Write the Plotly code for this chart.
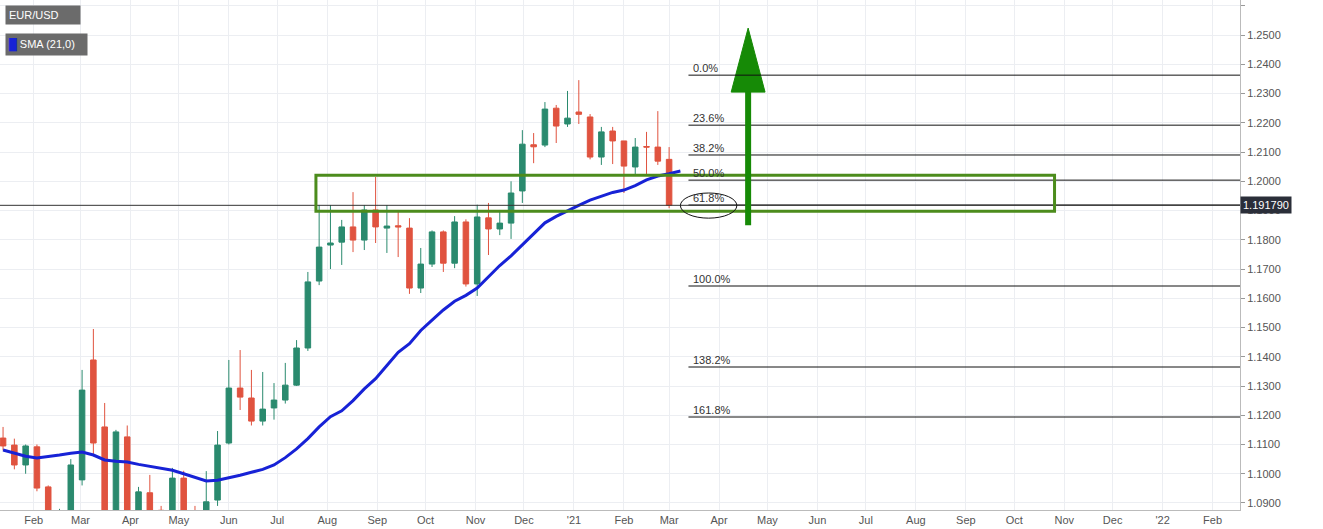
import plotly.graph_objects as go
import pandas as pd

start = pd.Timestamp("2020-01-13")
opens = [1.1122,1.1098,1.1030,1.1092,1.0955,1.0830,1.0845,1.0979,1.1389,1.1160,1.0690,1.1126,1.0790,1.0935,1.0875,1.0820,1.0985,1.0840,1.0820,1.0910,
         1.1105,1.1293,1.1259,1.1180,1.1225,1.1252,1.1303,1.1430,1.1659,1.1782,1.1792,1.1844,1.1799,1.1902,1.1840,1.1848,1.1840,1.1635,1.1717,1.1827,
         1.1720,1.1861,1.1649,1.1875,1.1837,1.1857,1.1967,1.2125,1.2124,1.2250,1.2196,1.2237,1.2220,1.2083,1.2172,1.2138,1.2049,1.2119,1.2117,1.2075]
highs = [1.1160,1.1120,1.1100,1.1100,1.0960,1.0880,1.1050,1.1355,1.1495,1.1242,1.1150,1.1165,1.0955,1.0996,1.0890,1.1020,1.1010,1.0890,1.1009,1.1146,
         1.1389,1.1423,1.1355,1.1348,1.1310,1.1379,1.1457,1.1690,1.1919,1.1919,1.1868,1.1963,1.1919,1.2015,1.1919,1.1902,1.1874,1.1772,1.1832,1.1832,
         1.1881,1.1870,1.1920,1.1926,1.1902,1.2000,1.2175,1.2165,1.2271,1.2261,1.2309,1.2346,1.2230,1.2186,1.2186,1.2138,1.2148,1.2169,1.2240,1.2117]
lows = [1.1080,1.1015,1.1000,1.0940,1.0800,1.0780,1.0840,1.0960,1.1060,1.0636,1.0635,1.0770,1.0770,1.0860,1.0755,1.0810,1.0780,1.0775,1.0870,1.0890,
        1.1100,1.1218,1.1165,1.1165,1.1185,1.1240,1.1300,1.1420,1.1645,1.1700,1.1714,1.1758,1.1765,1.1789,1.1755,1.1741,1.1615,1.1618,1.1707,1.1690,
        1.1703,1.1640,1.1608,1.1748,1.1816,1.1803,1.1926,1.2062,1.2117,1.2131,1.2186,1.2196,1.2075,1.2056,1.2059,1.1960,1.2018,1.2021,1.2056,1.1908]
closes = [1.1095,1.1030,1.1095,1.0951,1.0830,1.0845,1.1030,1.1286,1.1105,1.0690,1.1143,1.0800,1.0938,1.0875,1.0820,1.0985,1.0840,1.0820,1.0904,1.1098,
          1.1293,1.1262,1.1180,1.1221,1.1252,1.1303,1.1430,1.1656,1.1775,1.1789,1.1844,1.1799,1.1902,1.1844,1.1847,1.1844,1.1635,1.1717,1.1827,1.1720,
          1.1861,1.1649,1.1878,1.1837,1.1857,1.1960,1.2127,1.2118,1.2247,1.2189,1.2216,1.2229,1.2083,1.2169,1.2138,1.2052,1.2117,1.2117,1.2069,1.1918]
sma = [1.1081,1.1070,1.1060,1.1054,1.1058,1.1064,1.1070,1.1074,1.1064,1.1047,1.1043,1.1040,1.1032,1.1025,1.1018,1.1012,1.1000,1.0988,1.0975,1.0978,
       1.0986,1.0995,1.1005,1.1015,1.1030,1.1055,1.1085,1.1120,1.1160,1.1195,1.1215,1.1250,1.1290,1.1325,1.1370,1.1415,1.1445,1.1490,1.1525,1.1560,
       1.1590,1.1610,1.1635,1.1675,1.1712,1.1745,1.1782,1.1822,1.1858,1.1880,1.1900,1.1918,1.1936,1.1950,1.1962,1.1970,1.1985,1.2005,1.2018,1.2026,1.2035]
fib_labels = ["0.0%","23.6%","38.2%","50.0%","61.8%","100.0%","138.2%","161.8%"]
fib_levels = [1.2363,1.2192,1.2090,1.2004,1.1919,1.1642,1.1365,1.1194]
last_price = 1.19179
zone = [1.1898, 1.2021]
arrow_base, arrow_neck, arrow_tip = 1.1850, 1.2305, 1.2524

dates = [start + pd.Timedelta(weeks=i) for i in range(len(opens))]
sma_dates = [start + pd.Timedelta(weeks=i) for i in range(len(sma))]
x0 = start - pd.Timedelta(days=1.9)
x1 = start + pd.Timedelta(days=767)
GREEN, RED = "#2a8a6e", "#e0533f"

fig = go.Figure()
fig.add_trace(go.Candlestick(x=dates, open=opens, high=highs, low=lows, close=closes,
    increasing=dict(line=dict(color=GREEN, width=1), fillcolor=GREEN),
    decreasing=dict(line=dict(color=RED, width=1), fillcolor=RED), whiskerwidth=0, showlegend=False))
fig.add_trace(go.Scatter(x=sma_dates, y=sma, mode="lines", line=dict(color="#1722d6", width=3), showlegend=False))

fib_start = start + pd.Timedelta(days=425)
for lab, lv in zip(fib_labels, fib_levels):
    fig.add_shape(type="line", x0=fib_start, x1=x1, y0=lv, y1=lv, line=dict(color="#111", width=1))
    fig.add_annotation(x=fib_start + pd.Timedelta(days=1.5), y=lv, text=lab, showarrow=False, xanchor="left", yanchor="bottom",
                       font=dict(size=11, color="#333", family="Arial"), yshift=-1)
fig.add_shape(type="line", x0=x0, x1=x1, y0=last_price, y1=last_price, line=dict(color="#333", width=1))
fig.add_shape(type="rect", x0=start + pd.Timedelta(days=194), x1=start + pd.Timedelta(days=652), y0=zone[0], y1=zone[1],
              line=dict(color="#4c8c1c", width=3))
fig.add_shape(type="circle", x0=start + pd.Timedelta(days=420), x1=start + pd.Timedelta(days=455), y0=1.1874, y1=1.1960,
              line=dict(color="#111", width=1))
ax = start + pd.Timedelta(days=462)
fig.add_shape(type="line", x0=ax, x1=ax, y0=arrow_base, y1=arrow_neck, line=dict(color="#168a06", width=6))
fig.add_trace(go.Scatter(x=[ax - pd.Timedelta(days=10.5), ax, ax + pd.Timedelta(days=10.5), ax - pd.Timedelta(days=10.5)],
                         y=[arrow_neck, arrow_tip, arrow_neck, arrow_neck], fill="toself", fillcolor="#168a06",
                         mode="lines", line=dict(color="#168a06", width=1), showlegend=False, hoverinfo="skip"))

fig.add_annotation(xref="paper", yref="paper", x=0.004, y=0.99, xanchor="left", yanchor="top", showarrow=False,
                   text="EUR/USD      ", bgcolor="#6b6b6b", font=dict(color="white", size=11, family="Arial"), borderpad=3)
fig.add_annotation(xref="paper", yref="paper", x=0.004, y=0.935, xanchor="left", yanchor="top", showarrow=False,
                   text="<span style='color:#1722d6'>█</span> SMA (21,0)   ", bgcolor="#6b6b6b",
                   font=dict(color="white", size=11, family="Arial"), borderpad=3)
fig.add_annotation(xref="paper", x=1, y=last_price, xanchor="left", showarrow=False, text="1.191790",
                   bgcolor="#2a2e39", font=dict(color="white", size=11, family="Arial"), borderpad=2)

ticks = pd.date_range("2020-02-01", "2022-02-01", freq="MS")
ticktext = ["'" + d.strftime("%y") if d.month == 1 else d.strftime("%b") for d in ticks]
fig.update_layout(width=1323, height=529, margin=dict(l=0, r=83, t=0, b=19), plot_bgcolor="white", paper_bgcolor="white",
                  xaxis=dict(range=[x0, x1], rangeslider=dict(visible=False), tickvals=ticks, ticktext=ticktext, automargin=False,
                             showgrid=True, gridcolor="#eceef2", tickfont=dict(size=11, color="#555", family="Arial"),
                             ticks="", showline=True, linecolor="#bbb"),
                  yaxis=dict(range=[1.0876, 1.262], side="right", dtick=0.01, tickformat=".4f", showgrid=True, automargin=False,
                             gridcolor="#eceef2", tickfont=dict(size=11, color="#555", family="Arial"),
                             showline=True, linecolor="#bbb", ticks="outside", ticklen=4, tickcolor="#999"),
                  font=dict(family="Arial"))
fig.write_html("out.html", config={"displayModeBar": False})
with open("out.html", encoding="utf-8") as f:
    html = f.read()
html = html.replace("<body>", "<body style=\"margin:0;overflow:hidden\">", 1)
with open("out.html", "w", encoding="utf-8") as f:
    f.write(html)
